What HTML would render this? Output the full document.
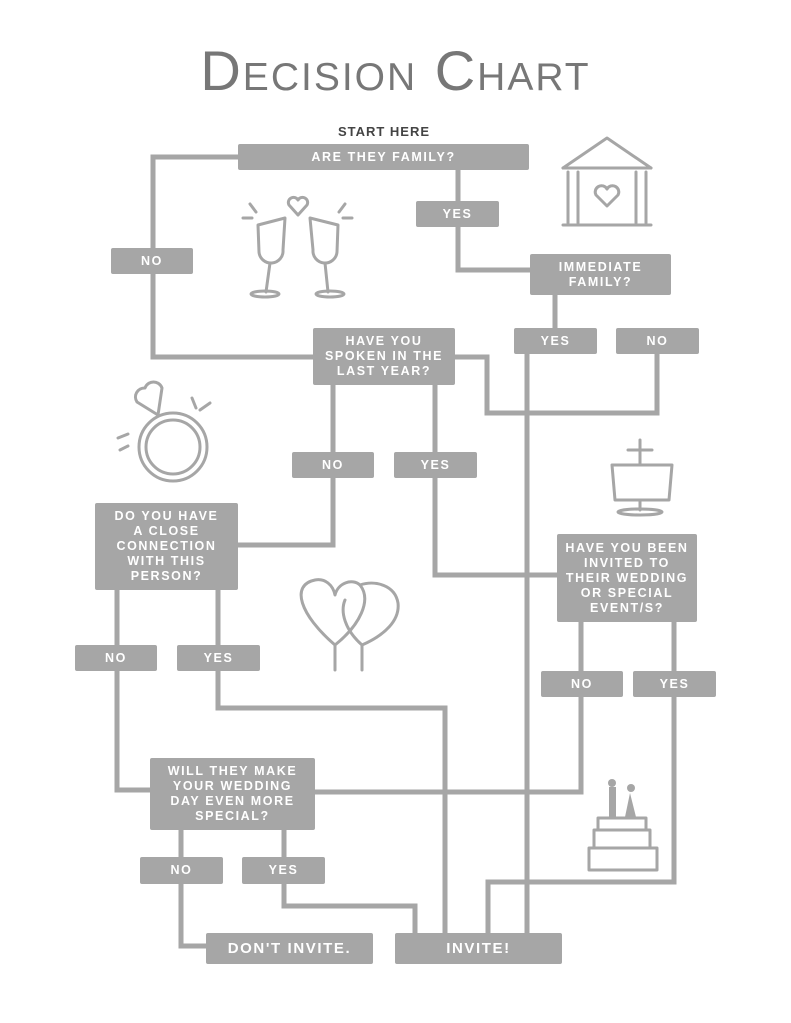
<!DOCTYPE html>
<html><head><meta charset="utf-8"><style>
body{margin:0;background:#fff;width:791px;height:1023px;position:relative;overflow:hidden;font-family:"Liberation Sans",sans-serif}
.b{position:absolute;background:#a6a6a6;color:#fff;font-weight:bold;font-size:12.5px;letter-spacing:1.6px;line-height:15px;display:flex;align-items:center;justify-content:center;text-align:center;border-radius:2px}
</style></head><body>
<svg width="791" height="1023" style="position:absolute;left:0;top:0" fill="none" stroke="#a6a6a6" stroke-width="5">
<polyline points="238,157 153,157 153,357 313,357"/>
<polyline points="458,170 458,270 530,270"/>
<polyline points="555,295 555,328"/>
<polyline points="527,354 527,933"/>
<polyline points="657,354 657,413 487,413 487,357 455,357"/>
<polyline points="333,385 333,545 238,545"/>
<polyline points="435,385 435,575 557,575"/>
<polyline points="117,590 117,790 150,790"/>
<polyline points="218,590 218,708 445,708 445,933"/>
<polyline points="581,622 581,792 315,792"/>
<polyline points="674,622 674,882 488,882 488,933"/>
<polyline points="181,830 181,946 206,946"/>
<polyline points="284,830 284,906 415,906 415,933"/>
<g stroke-width="3" stroke-linecap="round" stroke-linejoin="round">
<polyline points="563,168 607,138 651,168"/>
<line x1="563" y1="168" x2="651" y2="168"/>
<line x1="568" y1="172" x2="568" y2="223"/><line x1="578" y1="172" x2="578" y2="223"/>
<line x1="636" y1="172" x2="636" y2="223"/><line x1="646" y1="172" x2="646" y2="223"/>
<line x1="563" y1="225" x2="651" y2="225"/>
<path d="M607,206 L596,195 a6,6 0 0 1 11,-6 a6,6 0 0 1 11,6 Z"/>
<path d="M298,215 L289,205 a5,5 0 0 1 9,-5 a5,5 0 0 1 9,5 Z"/>
<path d="M258,225 L285,218 L283,250 a12,12 0 0 1 -24,2 Z"/>
<path d="M338,225 L310,218 L313,250 a12,12 0 0 0 24,2 Z"/>
<line x1="270" y1="263" x2="266" y2="292"/><ellipse cx="265" cy="294" rx="14" ry="3"/>
<line x1="325" y1="263" x2="328" y2="292"/><ellipse cx="330" cy="294" rx="14" ry="3"/>
<line x1="243" y1="218" x2="252" y2="218"/><line x1="250" y1="204" x2="256" y2="212"/>
<line x1="343" y1="218" x2="352" y2="218"/><line x1="345" y1="204" x2="339" y2="212"/>
<circle cx="173" cy="447" r="34"/><circle cx="173" cy="447" r="27"/>
<path d="M158,415 L137,402 a9,9 0 0 1 8,-14 a9,9 0 0 1 17,0 Z"/>
<line x1="192" y1="398" x2="196" y2="408"/><line x1="210" y1="403" x2="200" y2="410"/>
<line x1="118" y1="438" x2="128" y2="434"/><line x1="120" y1="450" x2="128" y2="446"/>
<path d="M612,465 h60 l-3,35 h-54 Z"/>
<line x1="640" y1="440" x2="640" y2="465"/><line x1="628" y1="450" x2="652" y2="450"/>
<ellipse cx="640" cy="512" rx="22" ry="3"/><line x1="640" y1="500" x2="640" y2="510"/>
<path d="M335,645 C300,615 290,585 315,580 C325,578 333,585 335,595 C338,583 352,578 360,585 C372,600 360,625 335,645Z"/>
<path d="M362,645 C345,630 340,612 345,600 M360,585 C375,580 395,585 398,603 C400,620 385,635 362,645"/>
<line x1="335" y1="645" x2="335" y2="670"/><line x1="362" y1="645" x2="362" y2="670"/>
<rect x="598" y="818" width="48" height="12"/><rect x="594" y="830" width="56" height="18"/><rect x="589" y="848" width="68" height="22"/>
</g>
<g fill="#a6a6a6" stroke="none">
<rect x="609" y="787" width="7" height="30"/><circle cx="612" cy="783" r="4"/>
<path d="M625,817 L630,793 L636,817Z"/><circle cx="631" cy="788" r="4"/>
</g>
</svg>
<div style="position:absolute;left:0;width:791px;top:38px;text-align:center;font-size:56px;color:#777;font-variant:small-caps;letter-spacing:2px;font-weight:normal">Decision Chart</div>
<div style="position:absolute;left:0;width:768px;top:124px;text-align:center;font-size:13px;color:#444;font-weight:bold;letter-spacing:1px">START HERE</div>
<div class="b" style="left:238px;top:144px;width:291px;height:26px">ARE THEY FAMILY?</div>
<div class="b" style="left:416px;top:201px;width:83px;height:26px">YES</div>
<div class="b" style="left:111px;top:248px;width:82px;height:26px">NO</div>
<div class="b" style="left:530px;top:254px;width:141px;height:41px">IMMEDIATE<br>FAMILY?</div>
<div class="b" style="left:514px;top:328px;width:83px;height:26px">YES</div>
<div class="b" style="left:616px;top:328px;width:83px;height:26px">NO</div>
<div class="b" style="left:313px;top:328px;width:142px;height:57px">HAVE YOU<br>SPOKEN IN THE<br>LAST YEAR?</div>
<div class="b" style="left:292px;top:452px;width:82px;height:26px">NO</div>
<div class="b" style="left:394px;top:452px;width:83px;height:26px">YES</div>
<div class="b" style="left:95px;top:503px;width:143px;height:87px">DO YOU HAVE<br>A CLOSE<br>CONNECTION<br>WITH THIS<br>PERSON?</div>
<div class="b" style="left:557px;top:534px;width:140px;height:88px">HAVE YOU BEEN<br>INVITED TO<br>THEIR WEDDING<br>OR SPECIAL<br>EVENT/S?</div>
<div class="b" style="left:75px;top:645px;width:82px;height:26px">NO</div>
<div class="b" style="left:177px;top:645px;width:83px;height:26px">YES</div>
<div class="b" style="left:541px;top:671px;width:82px;height:26px">NO</div>
<div class="b" style="left:633px;top:671px;width:83px;height:26px">YES</div>
<div class="b" style="left:150px;top:758px;width:165px;height:72px">WILL THEY MAKE<br>YOUR WEDDING<br>DAY EVEN MORE<br>SPECIAL?</div>
<div class="b" style="left:140px;top:857px;width:83px;height:27px">NO</div>
<div class="b" style="left:242px;top:857px;width:83px;height:27px">YES</div>
<div class="b" style="left:206px;top:933px;width:167px;height:31px;font-size:15px">DON'T INVITE.</div>
<div class="b" style="left:395px;top:933px;width:167px;height:31px;font-size:15px">INVITE!</div>
</body></html>
